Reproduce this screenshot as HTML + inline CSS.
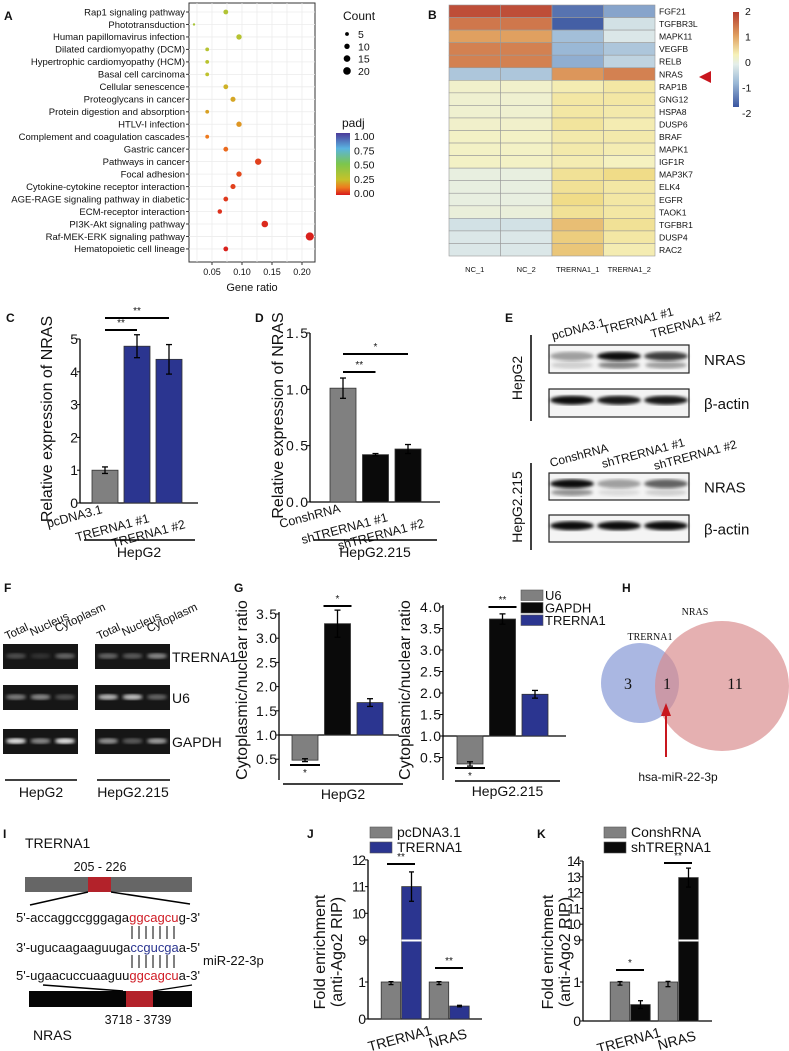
<!DOCTYPE html>
<html><head><meta charset="utf-8">
<style>
html,body{margin:0;padding:0;background:#fff;}
svg{display:block;font-family:"Liberation Sans",Arial,sans-serif;}
text{fill:#111;}
</style></head>
<body>
<svg id="fig" xmlns="http://www.w3.org/2000/svg" width="789" height="1051" viewBox="0 0 789 1051">
<defs>
<linearGradient id="padjGrad" x1="0" y1="1" x2="0" y2="0">
<stop offset="0" stop-color="#d7191c"/><stop offset="0.12" stop-color="#ee7a1e"/><stop offset="0.25" stop-color="#c5c22a"/><stop offset="0.5" stop-color="#7cc64c"/><stop offset="0.75" stop-color="#5ab4e0"/><stop offset="1" stop-color="#4b3a9a"/>
</linearGradient>
<linearGradient id="heatGrad" x1="0" y1="1" x2="0" y2="0">
<stop offset="0" stop-color="#3a55a0"/><stop offset="0.25" stop-color="#9ab8d6"/><stop offset="0.45" stop-color="#e4eeea"/><stop offset="0.55" stop-color="#f5f1b8"/><stop offset="0.75" stop-color="#e0a060"/><stop offset="1" stop-color="#b53a2e"/>
</linearGradient>
<filter id="blur1"><feGaussianBlur stdDeviation="1.6"/></filter>
</defs>
<text x="4" y="20" font-size="12" font-weight="bold">A</text>
<text x="428" y="19" font-size="12" font-weight="bold">B</text>
<text x="6" y="322" font-size="12" font-weight="bold">C</text>
<text x="255" y="322" font-size="12" font-weight="bold">D</text>
<text x="505" y="322" font-size="12" font-weight="bold">E</text>
<text x="4" y="592" font-size="12" font-weight="bold">F</text>
<text x="234" y="592" font-size="12" font-weight="bold">G</text>
<text x="622" y="592" font-size="12" font-weight="bold">H</text>
<text x="3" y="838" font-size="12" font-weight="bold">I</text>
<text x="307" y="838" font-size="12" font-weight="bold">J</text>
<text x="537" y="838" font-size="12" font-weight="bold">K</text>
<g id="root"></g>
</svg>
<script>
const aCats=["Rap1 signaling pathway","Phototransduction","Human papillomavirus infection","Dilated cardiomyopathy (DCM)","Hypertrophic cardiomyopathy (HCM)","Basal cell carcinoma","Cellular senescence","Proteoglycans in cancer","Protein digestion and absorption","HTLV-I infection","Complement and coagulation cascades","Gastric cancer","Pathways in cancer","Focal adhesion","Cytokine-cytokine receptor interaction","AGE-RAGE signaling pathway in diabetic","ECM-receptor interaction","PI3K-Akt signaling pathway","Raf-MEK-ERK signaling pathway","Hematopoietic cell lineage"];
const aRatio=[0.073,0.02,0.095,0.042,0.042,0.042,0.073,0.085,0.042,0.095,0.042,0.073,0.127,0.095,0.085,0.073,0.063,0.138,0.213,0.073];
const aCount=[8,2,10,5,5,5,8,9,5,10,5,8,14,10,9,8,7,15,23,8];
const aPadj=[0.32,0.35,0.3,0.3,0.29,0.27,0.22,0.2,0.19,0.17,0.12,0.1,0.05,0.06,0.05,0.04,0.03,0.02,0.01,0.01];
const aTicks=[0.05,0.10,0.15,0.20];
const aCountLegend=[5,10,15,20];

const bGenes=["FGF21","TGFBR3L","MAPK11","VEGFB","RELB","NRAS","RAP1B","GNG12","HSPA8","DUSP6","BRAF","MAPK1","IGF1R","MAP3K7","ELK4","EGFR","TAOK1","TGFBR1","DUSP4","RAC2"];
const bSamples=["NC_1","NC_2","TRERNA1_1","TRERNA1_2"];
const bNC1=[1.8,1.4,1.0,1.3,1.3,-0.8,0.1,0.05,0.05,0.1,0.15,0.15,0.15,-0.1,-0.1,-0.1,-0.05,-0.4,-0.3,-0.3];
const bNC2=[1.8,1.4,1.0,1.3,1.3,-0.8,0.1,0.05,0.05,0.1,0.15,0.15,0.15,-0.1,-0.1,-0.1,-0.05,-0.4,-0.3,-0.3];
const bTR1=[-1.7,-1.9,-0.9,-1.0,-1.1,1.1,0.3,0.4,0.4,0.45,0.35,0.35,0.3,0.5,0.5,0.6,0.5,0.8,0.7,0.75];
const bTR2=[-1.2,-0.4,-0.3,-0.8,-0.6,1.3,0.4,0.4,0.35,0.3,0.35,0.3,0.2,0.6,0.4,0.4,0.4,0.5,0.4,0.3];
const bTicks=[2,1,0,-1,-2];

const cCats=["pcDNA3.1","TRERNA1 #1","TRERNA1 #2"];
const cVals=[1.0,4.78,4.38];
const cErr=[0.1,0.35,0.45];
const cTicks=[0,1,2,3,4,5];

const dCats=["ConshRNA","shTRERNA1 #1","shTRERNA1 #2"];
const dVals=[1.01,0.42,0.47];
const dErr=[0.09,0.01,0.04];
const dTicks=[0.0,0.5,1.0,1.5];

const gSeries=["U6","GAPDH","TRERNA1"];
const gHepG2=[0.48,3.3,1.67];
const gHepG2Err=[0.03,0.28,0.08];
const gHepG215=[0.35,3.72,1.97];
const gHepG215Err=[0.05,0.12,0.09];
const gTicksL=[0.5,1.0,1.5,2.0,2.5,3.0,3.5];
const gTicksR=[0.5,1.0,1.5,2.0,2.5,3.0,3.5,4.0];

const jCats=["TRERNA1","NRAS"];
const jCtrl=[1.0,1.0];
const jCtrlErr=[0.07,0.07];
const jTreat=[11.0,0.35];
const jTreatErr=[0.55,0.02];
const jTicks=[0,1,9,10,11,12];

const kCats=["TRERNA1","NRAS"];
const kCtrl=[1.0,1.0];
const kCtrlErr=[0.08,0.12];
const kTreat=[0.42,12.95];
const kTreatErr=[0.1,0.6];
const kTicks=[0,1,9,10,11,12,13,14];

const NS="http://www.w3.org/2000/svg";
const root=document.getElementById('root');
function E(tag,attrs,parent){const e=document.createElementNS(NS,tag);for(const k in attrs)e.setAttribute(k,attrs[k]);(parent||root).appendChild(e);return e;}
function T(x,y,s,size,anchor,parent,extra){const e=E('text',Object.assign({x:x,y:y,'font-size':size,'text-anchor':anchor||'start'},extra||{}),parent);e.textContent=s;return e;}
function lerpC(c1,c2,t){const a=[1,3,5].map(i=>parseInt(c1.substr(i,2),16)),b=[1,3,5].map(i=>parseInt(c2.substr(i,2),16));return 'rgb('+a.map((v,i)=>Math.round(v+(b[i]-v)*t)).join(',')+')';}
function scaleColor(stops,v){for(let i=0;i<stops.length-1;i++){if(v<=stops[i+1][0]){const t=(v-stops[i][0])/(stops[i+1][0]-stops[i][0]);return lerpC(stops[i][1],stops[i+1][1],Math.max(0,Math.min(1,t)));}}return stops[stops.length-1][1];}
const padjStops=[[0,"#d7191c"],[0.12,"#ee7a1e"],[0.25,"#c5c22a"],[0.5,"#7cc64c"],[0.75,"#5ab4e0"],[1,"#4b3a9a"]];
const heatStops=[[-2,"#3a55a0"],[-1,"#9ab8d6"],[-0.2,"#e4eeea"],[0.2,"#f5f1c0"],[0.6,"#f0dc88"],[1,"#e0a060"],[2,"#b53a2e"]];
function errBar(g,x,y1,y2,w){E('line',{x1:x,y1:y1,x2:x,y2:y2,stroke:'#000','stroke-width':1.3},g);E('line',{x1:x-w,y1:y1,x2:x+w,y2:y1,stroke:'#000','stroke-width':1.3},g);E('line',{x1:x-w,y1:y2,x2:x+w,y2:y2,stroke:'#000','stroke-width':1.3},g);}
function sig(g,x1,x2,y,s,below){E('line',{x1:x1,y1:y,x2:x2,y2:y,stroke:'#000','stroke-width':2},g);T((x1+x2)/2,below?y+11:y-4,s,10,'middle',g);}

// Panel A
const gA=E('g',{});


const xA=v=>212+(v-0.05)*600;
const rowA=i=>12+i*12.47;
E('rect',{x:189,y:3,width:126,height:259,fill:'#fff',stroke:'#333','stroke-width':1},gA);
[0.025,0.075,0.125,0.175,0.05,0.10,0.15,0.20].forEach(v=>{if(xA(v)>189&&xA(v)<315)E('line',{x1:xA(v),y1:3,x2:xA(v),y2:262,stroke:'#ececec','stroke-width':0.8},gA);});
aCats.forEach((c,i)=>{E('line',{x1:189,y1:rowA(i),x2:315,y2:rowA(i),stroke:'#ececec','stroke-width':0.8},gA);});
aTicks.forEach(v=>{const tk=E('line',{x1:xA(v),y1:262,x2:xA(v),y2:265,stroke:'#333'},gA);
 const tl=T(xA(v),275,v.toFixed(2),9,'middle',gA);});
const xt=T(252,291,'Gene ratio',11,'middle',gA);


aCats.forEach((c,i)=>{
 const lab=T(185,rowA(i)+3.3,c,9.5,'end',gA);
 
 
 E('line',{x1:186,y1:rowA(i),x2:189,y2:rowA(i),stroke:'#333'},gA);
 const d=E('circle',{cx:xA(aRatio[i]),cy:rowA(i),r:Math.sqrt(aCount[i])*0.85,fill:scaleColor(padjStops,aPadj[i])},gA);
 
 
});
const lc=T(343,20,'Count',12,'start',gA);


aCountLegend.forEach((c,i)=>{const y=34+i*12.3;const dd=E('circle',{cx:347,cy:y,r:Math.sqrt(c)*0.85,fill:'#000'},gA);
 
 T(358,y+4,String(c),10.5,'start',gA);});
const pt=T(342,127,'padj',12,'start',gA);


const cb=E('rect',{x:336,y:133,width:14,height:62,fill:'url(#padjGrad)'},gA);


["1.00","0.75","0.50","0.25","0.00"].forEach((s,i)=>{T(354,140+i*14.3,s,10.5,'start',gA);});

// Panel B
const gB=E('g',{});


const hx0=449,hw=51.5,hy0=5,hh=12.55;
const bCols=[bNC1,bNC2,bTR1,bTR2];
bGenes.forEach((g,i)=>{
 bCols.forEach((col,j)=>{
  const c=E('rect',{x:hx0+j*hw,y:hy0+i*hh,width:hw,height:hh,fill:scaleColor(heatStops,col[i]),stroke:'#9a9a9a','stroke-width':0.6},gB);
  
  
 });
 const gl=T(659,hy0+i*hh+9.5,g,8.6,'start',gB);
 
 
});
bSamples.forEach((s,j)=>{const sl=T(hx0+j*hw+hw/2,272,s,7.5,'middle',gB);});
const arrowB=E('polygon',{points:'699,77 711,71 711,83',fill:'#c8161e'},gB);


const hcb=E('rect',{x:733,y:12,width:6,height:95,fill:'url(#heatGrad)'},gB);


bTicks.forEach((v,i)=>{T(v<0?742:745,15+(2-v)*25.5,String(v),10.5,'start',gB);});

// Panels C, D
const lblDx=[-2,13,17],lblDy=[10,19,25];
function barPanel(name,cats,vals,errs,ticks,yf,ax,axR,x0,step,colors,tickFmt,title,titleX,grpLabel,grpY,sigs){
 const g=E('g',{});
 
 
 const yT=yf(ticks[ticks.length-1]),y0=yf(ticks[0]);
 E('line',{x1:ax,y1:yT,x2:ax,y2:y0,stroke:'#000','stroke-width':1.3},g);
 E('line',{x1:ax,y1:y0,x2:axR,y2:y0,stroke:'#000','stroke-width':1.3},g);
 ticks.forEach(v=>{E('line',{x1:ax-3,y1:yf(v),x2:ax,y2:yf(v),stroke:'#000'},g);
  const tl=T(ax-2,yf(v)+5,tickFmt(v),14,'end',g,{'textLength':tickFmt(v).length>1?22:8});});
 const tt=T(0,0,title,16,'middle',g,{transform:'translate('+titleX+','+((yT+y0)/2-2)+') rotate(-90)'});
 
 
 cats.forEach((c,i)=>{
  const cx=x0+i*step;
  const b=E('rect',{x:cx-13,y:yf(vals[i]),width:26,height:y0-yf(vals[i]),fill:colors[i],stroke:'#333','stroke-width':0.8},g);
  
  
  errBar(g,cx,yf(vals[i]+errs[i]),yf(vals[i]-errs[i]),3);
  const cl=T(0,0,c,12.5,'end',g,{transform:'translate('+(cx+lblDx[i])+','+(y0+lblDy[i])+') rotate(-15)'});
  
  
 });
 E('line',{x1:ax+4,y1:grpY,x2:axR-3,y2:grpY,stroke:'#000','stroke-width':1.5},g);
 const gl=T((ax+axR)/2,grpY+17,grpLabel,14,'middle',g);
 
 
 sigs.forEach(s=>sig(g,x0+s[0]*step,x0+s[1]*step,s[2],s[3]));
 return g;
}
const yC=v=>503-v*32.8;
barPanel('panel-c-bar-chart',cCats,cVals,cErr,cTicks,yC,80,198,105,32,['#808080','#2b3590','#2b3590'],v=>String(v),'Relative expression of NRAS',52,'HepG2',540,[[0,1,330,'**'],[0,2,318,'**']]);
const yD=v=>502-v*112.7;
barPanel('panel-d-bar-chart',dCats,dVals,dErr,dTicks,yD,310,440,343,32.5,['#808080','#0a0a0a','#0a0a0a'],v=>v.toFixed(1),'Relative expression of NRAS',283,'HepG2.215',540,[[0,1,372,'**'],[0,2,354,'*']]);

// Panel E
const gE=E('g',{});


function blot(y,h,bands,label,name){
 const bg=E('g',{},gE);
 
 
 E('rect',{x:549,y:y,width:140,height:h,fill:'#f4f4f4',stroke:'#222','stroke-width':1.2},bg);
 bands.forEach((b,i)=>{const cx=572+i*47;
  E('ellipse',{cx:cx,cy:y+h*0.4,rx:22,ry:4.5,fill:'#000','fill-opacity':b[0],filter:'url(#blur1)'},bg);
  if(b[1]>0)E('ellipse',{cx:cx,cy:y+h*0.72,rx:21,ry:3.5,fill:'#000','fill-opacity':b[1],filter:'url(#blur1)'},bg);});
 T(704,y+h/2+6,label,15,'start',bg);
}
blot(345,28,[[0.35,0.15],[0.95,0.45],[0.75,0.35]],'NRAS','blot-hepg2-nras');
blot(389,28,[[0.95,0],[0.9,0],[0.9,0]],'β-actin','blot-hepg2-actin');
blot(473,27,[[0.95,0.4],[0.35,0.1],[0.6,0.15]],'NRAS','blot-hepg2215-nras');
blot(515,27,[[0.95,0],[0.95,0],[0.95,0]],'β-actin','blot-hepg2215-actin');
[["pcDNA3.1",553,340],["TRERNA1 #1",604,334],["TRERNA1 #2",652,338]].forEach(a=>{T(0,0,a[0],12,'start',gE,{transform:'translate('+a[1]+','+a[2]+') rotate(-15)'});});
[["ConshRNA",551,467],["shTRERNA1 #1",603,468],["shTRERNA1 #2",655,470]].forEach(a=>{T(0,0,a[0],12,'start',gE,{transform:'translate('+a[1]+','+a[2]+') rotate(-15)'});});
E('line',{x1:531,y1:335,x2:531,y2:421,stroke:'#000','stroke-width':1.5},gE);
E('line',{x1:531,y1:463,x2:531,y2:550,stroke:'#000','stroke-width':1.5},gE);
T(0,0,'HepG2',14,'middle',gE,{transform:'translate(522,378) rotate(-90)'});
T(0,0,'HepG2.215',14,'middle',gE,{transform:'translate(522,507) rotate(-90)'});

// Panel F
const gF=E('g',{});


const gels=[[644,'TRERNA1',[[0.25,0.12,0.35],[0.35,0.3,0.5]]],[685,'U6',[[0.45,0.5,0.25],[0.7,0.75,0.35]]],[729,'GAPDH',[[0.9,0.5,0.9],[0.55,0.3,0.6]]]];
gels.forEach(gl=>{
 [3,95].forEach((x,k)=>{
  const r=E('rect',{x:x,y:gl[0],width:75,height:25,fill:'#161616'},gF);
  
  
  gl[2][k].forEach((o,i)=>{E('ellipse',{cx:x+13+i*24.5,cy:gl[0]+12,rx:10,ry:2.8,fill:'#fff','fill-opacity':o,filter:'url(#blur1)'},gF);});
 });
 T(172,gl[0]+18,gl[1],14,'start',gF);
});
[3,95].forEach(x=>{[["Total",0],["Nucleus",25],["Cytoplasm",50]].forEach(a=>{T(0,0,a[0],11.5,'start',gF,{transform:'translate('+(x+4+a[1])+','+(640-a[1]*0.15)+') rotate(-25)'});});});
E('line',{x1:5,y1:780,x2:77,y2:780,stroke:'#000','stroke-width':1.5},gF);
E('line',{x1:97,y1:780,x2:170,y2:780,stroke:'#000','stroke-width':1.5},gF);
T(41,797,'HepG2',14,'middle',gF);
T(133,797,'HepG2.215',14,'middle',gF);

// Panel G
const gColors=['#808080','#0a0a0a','#2b3590'];
function gPanel(name,vals,errs,ticks,yf,ax,axR,x0,titleX,grp,grpY,grpX1,grpX2,sigTop,sigBot){
 const g=E('g',{});
 
 
 E('line',{x1:ax,y1:yf(ticks[ticks.length-1])-2,x2:ax,y2:780,stroke:'#000','stroke-width':1.3},g);
 E('line',{x1:ax,y1:yf(1),x2:axR,y2:yf(1),stroke:'#000','stroke-width':1.3},g);
 ticks.forEach(v=>{E('line',{x1:ax-3,y1:yf(v),x2:ax,y2:yf(v),stroke:'#000'},g);
  const tl=T(ax-2,yf(v)+5,v.toFixed(1),14,'end',g,{textLength:21});});
 T(0,0,'Cytoplasmic/nuclear ratio',16,'middle',g,{transform:'translate('+titleX+',690) rotate(-90)'});
 vals.forEach((v,i)=>{const cx=x0+i*32.5;const top=Math.min(yf(v),yf(1)),h=Math.abs(yf(v)-yf(1));
  const b=E('rect',{x:cx-13,y:top,width:26,height:h,fill:gColors[i],stroke:'#333','stroke-width':0.8},g);
  
  
  errBar(g,cx,yf(v+errs[i]),yf(v-errs[i]),3);
 });
 sig(g,x0+32.5-14,x0+32.5+14,sigTop[0],sigTop[1]);
 sig(g,x0-15,x0+15,sigBot[0],sigBot[1],true);
 E('line',{x1:grpX1,y1:grpY,x2:grpX2,y2:grpY,stroke:'#000','stroke-width':1.5},g);
 T((grpX1+grpX2)/2,grpY+15,grp,14,'middle',g);
}
gPanel('panel-g-left-bar-chart',gHepG2,gHepG2Err,gTicksL,v=>735-(v-1)*48.4,279,399,305,247,'HepG2',784,283,403,[606,'*'],[765,'*']);
gPanel('panel-g-right-bar-chart',gHepG215,gHepG215Err,gTicksR,v=>736-(v-1)*43,443,566,470,410,'HepG2.215',781,455,560,[607,'**'],[768,'*']);
gSeries.forEach((s,i)=>{
 const sw=E('rect',{x:521,y:590+i*12.5,width:22,height:10.5,fill:gColors[i],stroke:'#555','stroke-width':0.6});
 
 
 const lt=T(545,600+i*12.5,s,13);
 
 
});

// Panel H
const gH=E('g',{});


const cA=E('ellipse',{cx:640,cy:683,rx:39,ry:40,fill:'#8d9fd8','fill-opacity':0.75},gH);


const cN=E('ellipse',{cx:722,cy:686,rx:67,ry:65,fill:'#d98a8c','fill-opacity':0.68},gH);


T(628,689,'3',16,'middle',gH,{'font-family':'Liberation Serif'});
T(667,689,'1',16,'middle',gH,{'font-family':'Liberation Serif'});
T(735,689,'11',16,'middle',gH,{'font-family':'Liberation Serif'});
T(695,615,'NRAS',10,'middle',gH,{'font-family':'Liberation Serif'});
T(650,640,'TRERNA1',10,'middle',gH,{'font-family':'Liberation Serif'});
E('line',{x1:666,y1:757,x2:666,y2:712,stroke:'#c8161e','stroke-width':2},gH);
E('polygon',{points:'666,703 661,716 671,716',fill:'#c8161e'},gH);
T(678,781,'hsa-miR-22-3p',12,'middle',gH);

// Panel I
const gI=E('g',{});


T(25,848,'TRERNA1',14,'start',gI);
T(100,871,'205 - 226',12.5,'middle',gI);
E('rect',{x:25,y:877,width:167,height:15,fill:'#666'},gI);
E('rect',{x:88,y:877,width:23,height:15,fill:'#b3222a'},gI);
E('line',{x1:88,y1:892,x2:30,y2:905,stroke:'#000','stroke-width':1.5},gI);
E('line',{x1:111,y1:892,x2:190,y2:904,stroke:'#000','stroke-width':1.5},gI);
function seq(y,parts){const t=E('text',{x:16,y:y,'font-size':12.5,textLength:184,lengthAdjust:'spacingAndGlyphs'},gI);parts.forEach(p=>{const s=E('tspan',{fill:p[1]},t);s.textContent=p[0];});}
seq(922,[["5'-accaggccgggaga","#111"],["ggcagcu","#d01c25"],["g-3'","#111"]]);
seq(952,[["3'-ugucaagaaguuga","#111"],["ccgucga","#2b3590"],["a-5'","#111"]]);
seq(980,[["5'-ugaacuccuaaguu","#111"],["ggcagcu","#d01c25"],["a-3'","#111"]]);
for(let k=0;k<7;k++){const x=132+k*7;E('line',{x1:x,y1:926,x2:x,y2:939,stroke:'#000'},gI);E('line',{x1:x,y1:955,x2:x,y2:968,stroke:'#000'},gI);}
T(203,965,'miR-22-3p',13,'start',gI);
E('line',{x1:43,y1:985,x2:123,y2:991,stroke:'#000','stroke-width':1.5},gI);
E('line',{x1:153,y1:991,x2:192,y2:985,stroke:'#000','stroke-width':1.2},gI);
E('rect',{x:29,y:991,width:163,height:16,fill:'#050505'},gI);
E('rect',{x:126,y:991,width:27,height:16,fill:'#b3222a'},gI);
T(138,1024,'3718 - 3739',12.5,'middle',gI);
T(33,1040,'NRAS',14,'start',gI);

// Panels J, K
function ripPanel(name,cats,ctrl,ctrlErr,treat,treatErr,ticks,yf,ax,axR,x0,grpStep,treatColor,titleX,sigs,legend,legX){
 const g=E('g',{});
 
 
 const top=yf(ticks[ticks.length-1]),y0=yf(0);
 E('line',{x1:ax,y1:top,x2:ax,y2:y0,stroke:'#000','stroke-width':1.3},g);
 E('line',{x1:ax,y1:y0,x2:axR,y2:y0,stroke:'#000','stroke-width':1.3},g);
 ticks.forEach(v=>{E('line',{x1:ax-3,y1:yf(v),x2:ax,y2:yf(v),stroke:'#000'},g);
  const tl=T(ax-2,yf(v)+5,String(v),14,'end',g,{textLength:String(v).length>1?14:7});});
 T(0,0,'Fold enrichment',16,'middle',g,{transform:'translate('+titleX+',952) rotate(-90)'});
 T(0,0,'(anti-Ago2 RIP)',16,'middle',g,{transform:'translate('+(titleX+17)+',952) rotate(-90)'});
 cats.forEach((c,i)=>{
  const cx=x0+i*grpStep;
  const b1=E('rect',{x:cx-9.8,y:yf(ctrl[i]),width:19.5,height:y0-yf(ctrl[i]),fill:'#808080',stroke:'#333','stroke-width':0.8},g);
  
  
  errBar(g,cx,yf(ctrl[i]+ctrlErr[i]),yf(ctrl[i]-ctrlErr[i]),2.5);
  const tx=cx+20.5;
  const b2=E('rect',{x:tx-9.8,y:yf(treat[i]),width:19.5,height:y0-yf(treat[i]),fill:treatColor,stroke:'#333','stroke-width':0.8},g);
  
  
  if(treat[i]>9)E('line',{x1:tx-10,y1:yf(9)+0.5,x2:tx+10,y2:yf(9)+0.5,stroke:'#fff','stroke-width':2},g);
  errBar(g,tx,yf(treat[i]+treatErr[i]),yf(treat[i]-treatErr[i]),2.5);
  const cl=T(0,0,c,14,'middle',g,{transform:'translate('+(cx+10)+','+(y0+24)+') rotate(-15)'});
  
  
 });
 sigs.forEach(s=>sig(g,x0+s[0]*grpStep-4,x0+s[0]*grpStep+24,s[1],s[2]));
 legend.forEach((l,i)=>{
  const sw=E('rect',{x:legX,y:827+i*15,width:22,height:11,fill:l[1],stroke:'#555','stroke-width':0.6},g);
  
  
  const lt=T(legX+27,837+i*15,l[0],14,'start',g);
  
  
 });
}
const yJ=v=>v<=1?1019-37*v:(v<=9?982-(v-1)*42/8:940-(v-9)*26.7);
ripPanel('panel-j-bar-chart',jCats,jCtrl,jCtrlErr,jTreat,jTreatErr,jTicks,yJ,368,482,391,48,'#2b3590',325,[[0,864,'**'],[1,968,'**']],[["pcDNA3.1","#808080"],["TRERNA1","#2b3590"]],370);
const yK=v=>v<=1?1021-39*v:(v<=9?982-(v-1)*42/8:940-(v-9)*15.8);
ripPanel('panel-k-bar-chart',kCats,kCtrl,kCtrlErr,kTreat,kTreatErr,kTicks,yK,583,712,620,48,'#0a0a0a',553,[[0,970,'*'],[1,863,'**']],[["ConshRNA","#808080"],["shTRERNA1","#0a0a0a"]],604);
</script>
</body></html>
